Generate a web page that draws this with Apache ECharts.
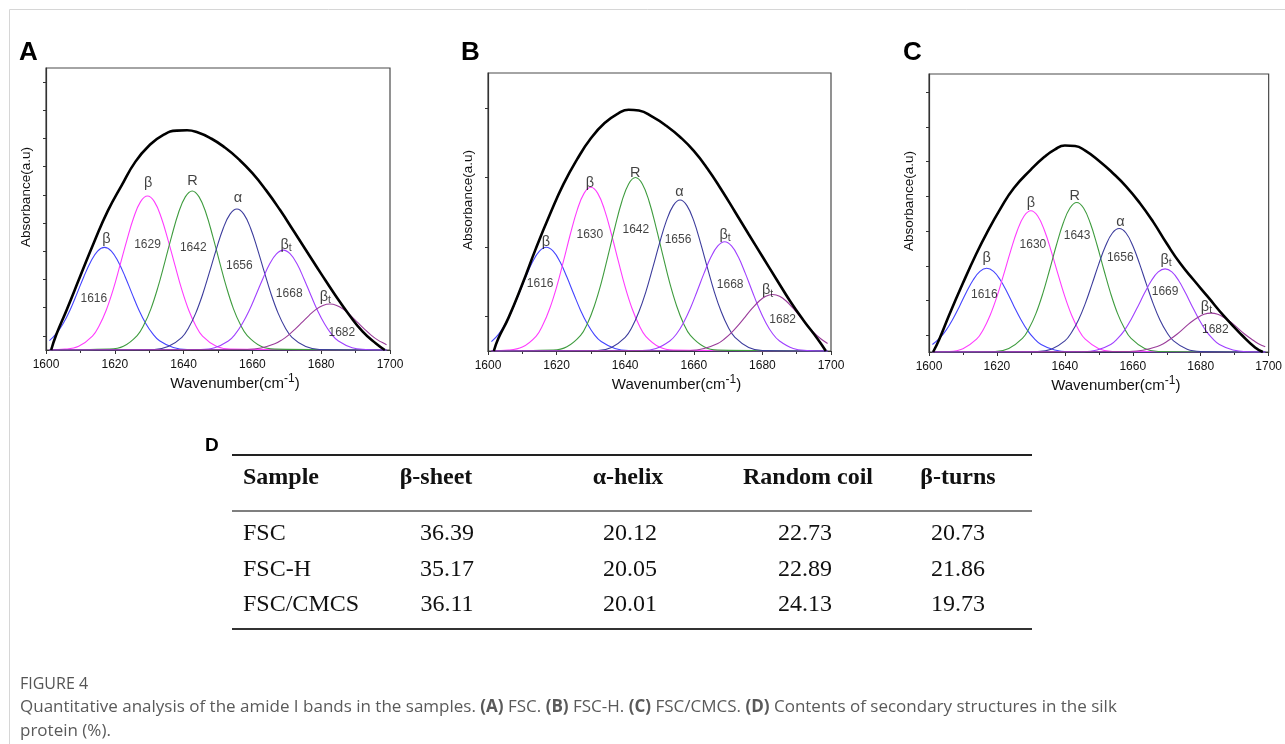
<!DOCTYPE html>
<html>
<head>
<meta charset="utf-8">
<title>Figure 4 - amide I band fitting</title>
<script src="https://cdn.jsdelivr.net/npm/echarts@6.0.0/dist/echarts.min.js"></script>
<style>
html, body { margin: 0; padding: 0; background: #fff; }
#chart { width: 1285px; height: 744px; }
</style>
</head>
<body>
<div id="chart"></div>
<script>
// ---- shared ----
const TAGS = ['β', 'β', 'R', 'α', 'β_t', 'β_t'];
const X_TICKS = [1600, 1620, 1640, 1660, 1680, 1700];
const COLORS = ['#4444ff', '#ff3cff', '#3f9c3f', '#3c3c9c', '#a040ff', '#9a3c9a'];

// ---- (A) FSC ----
const A_BETA_1616 = [[1601,0.033],[1603,0.058],[1605,0.094],[1607,0.142],[1609,0.2],[1611,0.26],[1613,0.313],[1615,0.351],[1617,0.364],[1619,0.351],[1621,0.313],[1623,0.26],[1625,0.2],[1627,0.142],[1629,0.094],[1631,0.058],[1633,0.033],[1637,0.009],[1641,0.002],[1699,0]];
const A_BETA_1629 = [[1601,0.001],[1605.5,0.003],[1609.5,0.013],[1613.5,0.049],[1615.5,0.087],[1617.5,0.141],[1619.5,0.213],[1621.5,0.3],[1623.5,0.389],[1625.5,0.47],[1627.5,0.526],[1629.5,0.546],[1631.5,0.526],[1633.5,0.47],[1635.5,0.389],[1637.5,0.3],[1639.5,0.213],[1641.5,0.141],[1643.5,0.087],[1645.5,0.049],[1649.5,0.013],[1653.5,0.003],[1699,0]];
const A_R_1642 = [[1601,0],[1618.5,0.003],[1622.5,0.013],[1626.5,0.051],[1628.5,0.09],[1630.5,0.146],[1632.5,0.221],[1634.5,0.31],[1636.5,0.402],[1638.5,0.486],[1640.5,0.543],[1642.5,0.564],[1644.5,0.543],[1646.5,0.486],[1648.5,0.402],[1650.5,0.31],[1652.5,0.221],[1654.5,0.146],[1656.5,0.09],[1658.5,0.051],[1662.5,0.013],[1666.5,0.003],[1699,0]];
const A_ALPHA_1656 = [[1601,0],[1631.5,0.002],[1635.5,0.012],[1639.5,0.045],[1641.5,0.08],[1643.5,0.13],[1645.5,0.196],[1647.5,0.275],[1649.5,0.357],[1651.5,0.431],[1653.5,0.482],[1655.5,0.5],[1657.5,0.482],[1659.5,0.431],[1661.5,0.357],[1663.5,0.275],[1665.5,0.196],[1667.5,0.13],[1669.5,0.08],[1671.5,0.045],[1675.5,0.012],[1679.5,0.002],[1699,0]];
const A_TURN_1668 = [[1601,0],[1645,0.002],[1649,0.008],[1653,0.032],[1655,0.056],[1657,0.092],[1659,0.138],[1661,0.194],[1663,0.252],[1665,0.305],[1667,0.341],[1669,0.354],[1671,0.341],[1673,0.305],[1675,0.252],[1677,0.194],[1679,0.138],[1681,0.092],[1683,0.056],[1685,0.032],[1689,0.008],[1693,0.002],[1699,0]];
const A_TURN_1682 = [[1601,0],[1658.5,0.002],[1662.5,0.007],[1666.5,0.022],[1668.5,0.035],[1670.5,0.053],[1672.5,0.075],[1674.5,0.099],[1676.5,0.123],[1678.5,0.144],[1680.5,0.158],[1682.5,0.163],[1684.5,0.158],[1686.5,0.144],[1688.5,0.123],[1690.5,0.099],[1692.5,0.075],[1694.5,0.053],[1696.5,0.035],[1698.5,0.022],[1699,0.019]];
const A_ENVELOPE = [[1601.5,0],[1603,0.055],[1606,0.142],[1610,0.263],[1614,0.383],[1618,0.494],[1622,0.584],[1626,0.668],[1630,0.725],[1634,0.762],[1638,0.778],[1641,0.779],[1644,0.772],[1648,0.75],[1652,0.718],[1656,0.677],[1660,0.627],[1664,0.566],[1668,0.497],[1672,0.422],[1676,0.346],[1680,0.27],[1684,0.196],[1688,0.127],[1692,0.066],[1696,0.022],[1698.5,0]];
const A_NUMS = ['1616', '1629', '1642', '1656', '1668', '1682'];
const A_Y_TICKS = [0.05, 0.15, 0.25, 0.35, 0.45, 0.55, 0.65, 0.75, 0.85, 0.95];

// ---- (B) FSC-H ----
const B_BETA_1616 = [[1601,0.034],[1603,0.059],[1605,0.097],[1607,0.146],[1609,0.205],[1611,0.266],[1613,0.321],[1615,0.359],[1617,0.373],[1619,0.359],[1621,0.321],[1623,0.266],[1625,0.205],[1627,0.146],[1629,0.097],[1631,0.059],[1633,0.034],[1637,0.009],[1641,0.002],[1699,0]];
const B_BETA_1630 = [[1601,0.001],[1606,0.003],[1610,0.014],[1614,0.053],[1616,0.094],[1618,0.153],[1620,0.23],[1622,0.323],[1624,0.42],[1626,0.507],[1628,0.567],[1630,0.589],[1632,0.567],[1634,0.507],[1636,0.42],[1638,0.323],[1640,0.23],[1642,0.153],[1644,0.094],[1646,0.053],[1650,0.014],[1654,0.003],[1699,0]];
const B_R_1642 = [[1601,0],[1619,0.003],[1623,0.015],[1627,0.056],[1629,0.099],[1631,0.162],[1633,0.244],[1635,0.343],[1637,0.445],[1639,0.537],[1641,0.601],[1643,0.624],[1645,0.601],[1647,0.537],[1649,0.445],[1651,0.343],[1653,0.244],[1655,0.162],[1657,0.099],[1659,0.056],[1663,0.015],[1667,0.003],[1699,0]];
const B_ALPHA_1656 = [[1601,0],[1632,0.002],[1636,0.013],[1640,0.049],[1642,0.086],[1644,0.141],[1646,0.212],[1648,0.298],[1650,0.387],[1652,0.468],[1654,0.523],[1656,0.543],[1658,0.523],[1660,0.468],[1662,0.387],[1664,0.298],[1666,0.212],[1668,0.141],[1670,0.086],[1672,0.049],[1676,0.013],[1680,0.002],[1699,0]];
const B_TURN_1668 = [[1601,0],[1645,0.002],[1649,0.009],[1653,0.036],[1655,0.062],[1657,0.102],[1659,0.154],[1661,0.216],[1663,0.28],[1665,0.338],[1667,0.378],[1669,0.393],[1671,0.378],[1673,0.338],[1675,0.28],[1677,0.216],[1679,0.154],[1681,0.102],[1683,0.062],[1685,0.036],[1689,0.009],[1693,0.002],[1699,0]];
const B_TURN_1682 = [[1601,0],[1659,0.002],[1663,0.009],[1667,0.027],[1669,0.044],[1671,0.066],[1673,0.093],[1675,0.123],[1677,0.153],[1679,0.179],[1681,0.197],[1683,0.203],[1685,0.197],[1687,0.179],[1689,0.153],[1691,0.123],[1693,0.093],[1695,0.066],[1697,0.044],[1699,0.027]];
const B_ENVELOPE = [[1601.7,0],[1603,0.045],[1606,0.12],[1610,0.24],[1614,0.37],[1618,0.49],[1622,0.6],[1626,0.69],[1630,0.765],[1634,0.82],[1638,0.855],[1641,0.868],[1644,0.865],[1648,0.842],[1652,0.81],[1656,0.77],[1660,0.72],[1664,0.656],[1668,0.581],[1672,0.501],[1676,0.42],[1680,0.34],[1684,0.26],[1688,0.181],[1692,0.11],[1696,0.045],[1698.5,0]];
const B_NUMS = ['1616', '1630', '1642', '1656', '1668', '1682'];
const B_Y_TICKS = [0.125, 0.375, 0.625, 0.875];

// ---- (C) FSC/CMCS ----
const C_BETA_1616 = [[1601,0.027],[1603,0.048],[1605,0.078],[1607,0.118],[1609,0.165],[1611,0.215],[1613,0.259],[1615,0.29],[1617,0.301],[1619,0.29],[1621,0.259],[1623,0.215],[1625,0.165],[1627,0.118],[1629,0.078],[1631,0.048],[1633,0.027],[1637,0.007],[1641,0.001],[1699,0]];
const C_BETA_1630 = [[1601,0.001],[1606,0.002],[1610,0.012],[1614,0.046],[1616,0.081],[1618,0.132],[1620,0.199],[1622,0.279],[1624,0.362],[1626,0.437],[1628,0.489],[1630,0.508],[1632,0.489],[1634,0.437],[1636,0.362],[1638,0.279],[1640,0.199],[1642,0.132],[1644,0.081],[1646,0.046],[1650,0.012],[1654,0.002],[1699,0]];
const C_R_1643 = [[1601,0],[1619.5,0.002],[1623.5,0.013],[1627.5,0.049],[1629.5,0.086],[1631.5,0.139],[1633.5,0.21],[1635.5,0.295],[1637.5,0.384],[1639.5,0.463],[1641.5,0.518],[1643.5,0.538],[1645.5,0.518],[1647.5,0.463],[1649.5,0.384],[1651.5,0.295],[1653.5,0.21],[1655.5,0.139],[1657.5,0.086],[1659.5,0.049],[1663.5,0.013],[1667.5,0.002],[1699,0]];
const C_ALPHA_1656 = [[1601,0],[1632,0.002],[1636,0.01],[1640,0.04],[1642,0.071],[1644,0.115],[1646,0.174],[1648,0.244],[1650,0.317],[1652,0.382],[1654,0.428],[1656,0.444],[1658,0.428],[1660,0.382],[1662,0.317],[1664,0.244],[1666,0.174],[1668,0.115],[1670,0.071],[1672,0.04],[1676,0.01],[1680,0.002],[1699,0]];
const C_TURN_1669 = [[1601,0],[1645.5,0.001],[1649.5,0.007],[1653.5,0.027],[1655.5,0.048],[1657.5,0.077],[1659.5,0.117],[1661.5,0.164],[1663.5,0.213],[1665.5,0.257],[1667.5,0.288],[1669.5,0.299],[1671.5,0.288],[1673.5,0.257],[1675.5,0.213],[1677.5,0.164],[1679.5,0.117],[1681.5,0.077],[1683.5,0.048],[1685.5,0.027],[1689.5,0.007],[1693.5,0.001],[1699,0]];
const C_TURN_1682 = [[1601,0],[1659,0.002],[1663,0.006],[1667,0.019],[1669,0.03],[1671,0.046],[1673,0.064],[1675,0.085],[1677,0.106],[1679,0.123],[1681,0.136],[1683,0.14],[1685,0.136],[1687,0.123],[1689,0.106],[1691,0.085],[1693,0.064],[1695,0.046],[1697,0.03],[1699,0.019]];
const C_ENVELOPE = [[1601.2,0],[1603,0.045],[1606,0.135],[1610,0.248],[1614,0.355],[1617,0.428],[1621,0.515],[1625,0.59],[1630,0.656],[1634,0.702],[1637,0.728],[1640,0.743],[1643,0.741],[1646,0.724],[1650,0.688],[1654,0.645],[1658,0.596],[1662,0.537],[1666,0.468],[1670,0.39],[1674,0.318],[1678,0.258],[1682,0.2],[1687,0.127],[1692,0.062],[1696,0.016],[1698.3,0]];
const C_NUMS = ['1616', '1630', '1643', '1656', '1669', '1682'];
const C_Y_TICKS = [0.06, 0.185, 0.31, 0.435, 0.56, 0.685, 0.81, 0.935];

// ---- (D) table ----
const TABLE_HEAD = ['Sample', 'β-sheet', 'α-helix', 'Random coil', 'β-turns'];
const SAMPLES = ['FSC', 'FSC-H', 'FSC/CMCS'];
const BETA_SHEET = [36.39, 35.17, 36.11];
const ALPHA_HELIX = [20.12, 20.05, 20.01];
const RANDOM_COIL = [22.73, 22.89, 24.13];
const BETA_TURNS = [20.73, 21.86, 19.73];

// label anchors (wavenumber, height) -- layout only
const A_TAG_POS = [[1617.6,0.395],[1629.7,0.592],[1642.6,0.598],[1655.8,0.538],[1669.8,0.372],[1681.2,0.188]];
const A_NUM_POS = [[1613.9,0.183],[1629.5,0.372],[1642.8,0.364],[1656.2,0.298],[1670.7,0.199],[1686,0.061]];
const B_TAG_POS = [[1616.9,0.393],[1629.7,0.605],[1642.9,0.639],[1655.8,0.571],[1669.1,0.418],[1681.5,0.218]];
const B_NUM_POS = [[1615.2,0.243],[1629.7,0.417],[1643.1,0.438],[1655.4,0.402],[1670.6,0.237],[1685.9,0.111]];
const C_TAG_POS = [[1617,0.337],[1630,0.537],[1642.9,0.561],[1656.4,0.469],[1669.8,0.332],[1681.7,0.163]];
const C_NUM_POS = [[1616.3,0.205],[1630.6,0.387],[1643.6,0.417],[1656.3,0.34],[1669.5,0.217],[1684.3,0.079]];

const FONT = '"Liberation Sans", Arial, sans-serif';
const SERIF = '"Liberation Serif", "Times New Roman", serif';
const CAPTION_FONT = '"Open Sans", "Noto Sans", sans-serif';

const PANELS = [
  { letter: 'A', letterX: 19, grid: { left: 46, top: 68, width: 344, height: 282 },
    curves: [A_BETA_1616, A_BETA_1629, A_R_1642, A_ALPHA_1656, A_TURN_1668, A_TURN_1682],
    env: A_ENVELOPE, nums: A_NUMS, yTicks: A_Y_TICKS, tagPos: A_TAG_POS, numPos: A_NUM_POS },
  { letter: 'B', letterX: 461, grid: { left: 488, top: 73, width: 343, height: 278 },
    curves: [B_BETA_1616, B_BETA_1630, B_R_1642, B_ALPHA_1656, B_TURN_1668, B_TURN_1682],
    env: B_ENVELOPE, nums: B_NUMS, yTicks: B_Y_TICKS, tagPos: B_TAG_POS, numPos: B_NUM_POS },
  { letter: 'C', letterX: 903, grid: { left: 929, top: 74, width: 343, height: 278 },
    curves: [C_BETA_1616, C_BETA_1630, C_R_1643, C_ALPHA_1656, C_TURN_1669, C_TURN_1682],
    env: C_ENVELOPE, nums: C_NUMS, yTicks: C_Y_TICKS, tagPos: C_TAG_POS, numPos: C_NUM_POS }
];

function tagText(t) {
  // "β_t" -> β with a subscript t
  const parts = t.split('_');
  return parts.length > 1 ? '{g|' + parts[0] + '}{s|' + parts[1] + '}' : '{g|' + t + '}';
}

const option = {
  animation: false,
  backgroundColor: '#fff',
  grid: [], xAxis: [], yAxis: [], series: [], graphic: []
};

PANELS.forEach(function (p, i) {
  option.grid.push(Object.assign({ show: true, borderColor: '#4a4a4a', borderWidth: 1.2 }, p.grid));
  option.xAxis.push({
    type: 'value', gridIndex: i, min: 1600, max: 1700, interval: 20,
    name: '{a|Wavenumber(cm}{s|-1}{a|)}', nameLocation: 'middle', nameGap: 23,
    nameTextStyle: {
      padding: [0, 0, 0, 34],
      rich: {
        a: { fontFamily: FONT, fontSize: 15, color: '#111', lineHeight: 22 },
        s: { fontFamily: FONT, fontSize: 12, color: '#111', lineHeight: 8, verticalAlign: 'top' }
      }
    },
    axisLine: { lineStyle: { color: '#333', width: 1.2 } },
    axisTick: { length: 4, lineStyle: { color: '#333' } },
    minorTick: { show: true, splitNumber: 2, length: 3, lineStyle: { color: '#333' } },
    axisLabel: {
      customValues: X_TICKS, margin: 9, fontFamily: FONT, fontSize: 12, color: '#111',
      formatter: function (v) { return String(v); }
    },
    splitLine: { show: false }
  });
  option.yAxis.push({
    type: 'value', gridIndex: i, min: 0, max: 1,
    name: 'Absorbance(a.u)', nameLocation: 'middle', nameGap: 13,
    nameTextStyle: { fontFamily: FONT, fontSize: 13.5, color: '#111', padding: [0, 0, 0, 24] },
    axisLine: { show: true, lineStyle: { color: '#333', width: 1.2 } },
    axisTick: { show: true, length: 3, customValues: p.yTicks, lineStyle: { color: '#333' } },
    axisLabel: { show: false },
    splitLine: { show: false }
  });

  // fitted component bands
  p.curves.forEach(function (c, k) {
    option.series.push({
      type: 'line', xAxisIndex: i, yAxisIndex: i, data: c,
      smooth: 0.4, showSymbol: false, silent: true, z: 2,
      lineStyle: { color: COLORS[k], width: 1.1 }
    });
  });
  // measured amide I envelope
  option.series.push({
    type: 'line', xAxisIndex: i, yAxisIndex: i, data: p.env,
    smooth: 0.5, showSymbol: false, silent: true, z: 3,
    lineStyle: { color: '#000', width: 2.6 }
  });
  // band names and peak positions
  option.series.push({
    type: 'scatter', xAxisIndex: i, yAxisIndex: i, symbolSize: 1, silent: true, z: 4,
    itemStyle: { color: 'rgba(0,0,0,0)' },
    data: p.tagPos.map(function (pos, k) { return { value: pos, name: TAGS[k] }; }),
    label: {
      show: true, position: 'inside',
      formatter: function (d) { return tagText(d.name); },
      rich: {
        g: { fontFamily: FONT, fontSize: 14.5, color: '#111', lineHeight: 18 },
        s: { fontFamily: FONT, fontSize: 10.5, color: '#111', lineHeight: 8, verticalAlign: 'bottom' }
      }
    }
  });
  option.series.push({
    type: 'scatter', xAxisIndex: i, yAxisIndex: i, symbolSize: 1, silent: true, z: 4,
    itemStyle: { color: 'rgba(0,0,0,0)' },
    data: p.numPos.map(function (pos, k) { return { value: pos, name: p.nums[k] }; }),
    label: { show: true, position: 'inside', formatter: '{b}', fontFamily: FONT, fontSize: 12, color: '#111' }
  });

  option.graphic.push({
    type: 'text', left: p.letterX, top: 40,
    style: { text: p.letter, font: 'bold 26px ' + FONT, fill: '#000' }
  });
});

// page frame lines
option.graphic.push(
  { type: 'line', shape: { x1: 9.5, y1: 9.5, x2: 9.5, y2: 744 }, style: { stroke: '#d6d6d6', lineWidth: 1 } },
  { type: 'line', shape: { x1: 9.5, y1: 9.5, x2: 1285, y2: 9.5 }, style: { stroke: '#d6d6d6', lineWidth: 1 } }
);

// ---- table (D) ----
const colX = [243, 436, 628, 808, 958];
const valX = [243, 447, 630, 805, 958];
const headY = 478;
const rowY = [534, 570, 605];
option.graphic.push({ type: 'text', left: 205, top: 436, style: { text: 'D', font: 'bold 19px ' + FONT, fill: '#000' } });
option.graphic.push(
  { type: 'line', shape: { x1: 232, y1: 455, x2: 1032, y2: 455 }, style: { stroke: '#222', lineWidth: 2 } },
  { type: 'line', shape: { x1: 232, y1: 511, x2: 1032, y2: 511 }, style: { stroke: '#555', lineWidth: 1.5 } },
  { type: 'line', shape: { x1: 232, y1: 629, x2: 1032, y2: 629 }, style: { stroke: '#333', lineWidth: 2 } }
);
TABLE_HEAD.forEach(function (h, c) {
  option.graphic.push({
    type: 'text', x: colX[c], y: headY,
    style: { text: h, font: 'bold 24px ' + SERIF, fill: '#111',
      align: c === 0 ? 'left' : 'center', textAlign: c === 0 ? 'left' : 'center',
      verticalAlign: 'middle', textVerticalAlign: 'middle' }
  });
});
SAMPLES.forEach(function (s, r) {
  const cells = [s, BETA_SHEET[r].toFixed(2), ALPHA_HELIX[r].toFixed(2), RANDOM_COIL[r].toFixed(2), BETA_TURNS[r].toFixed(2)];
  cells.forEach(function (t, c) {
    option.graphic.push({
      type: 'text', x: valX[c], y: rowY[r],
      style: { text: t, font: '24px ' + SERIF, fill: '#111',
        align: c === 0 ? 'left' : 'center', textAlign: c === 0 ? 'left' : 'center',
        verticalAlign: 'middle', textVerticalAlign: 'middle' }
    });
  });
});

// ---- caption ----
option.graphic.push(
  { type: 'text', x: 20, y: 684,
    style: { text: 'FIGURE 4', font: '16px ' + CAPTION_FONT, fill: '#555', verticalAlign: 'middle', textVerticalAlign: 'middle' } },
  { type: 'text', x: 20, y: 707,
    style: {
      text: 'Quantitative analysis of the amide I bands in the samples. {b|(A)} FSC. {b|(B)} FSC-H. {b|(C)} FSC/CMCS. {b|(D)} Contents of secondary structures in the silk',
      font: '17px ' + CAPTION_FONT, fill: '#5a5a5a', verticalAlign: 'middle', textVerticalAlign: 'middle',
      rich: { b: { fontFamily: CAPTION_FONT, fontSize: 17, fontWeight: 'bold', fill: '#5a5a5a', color: '#5a5a5a' } }
    } },
  { type: 'text', x: 20, y: 731,
    style: { text: 'protein (%).', font: '17px ' + CAPTION_FONT, fill: '#5a5a5a', verticalAlign: 'middle', textVerticalAlign: 'middle' } }
);

const chart = echarts.init(document.getElementById('chart'), null, { renderer: 'canvas' });
chart.setOption(option);
</script>
</body>
</html>
